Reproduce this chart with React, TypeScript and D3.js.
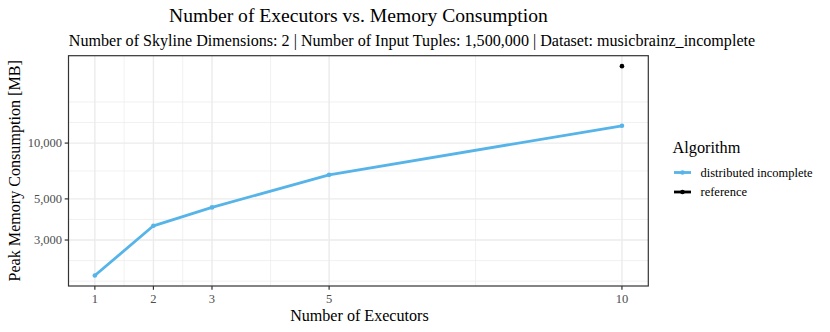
import React from "react";
import * as d3 from "d3";

const executors = [1, 2, 3, 5, 10];
const distributedIncomplete = [1930, 3580, 4500, 6740, 12400];
const referenceX = [10];
const referenceY = [26000];
const xBreaks = [1, 2, 3, 5, 10];
const yBreaks = [3000, 5000, 10000];
const legendLabels = ["distributed incomplete", "reference"];
const seriesColors = ["#56B4E9", "#000000"];

const W = 830;
const H = 332;
const panel = { left: 68.5, right: 648.3, top: 55.7, bottom: 286 };
const FONT = "'Liberation Serif', 'Times New Roman', serif";

export default function App() {
  const xMin = d3.min(executors)!;
  const xMax = d3.max(executors)!;
  const xPad = (xMax - xMin) * 0.05;
  const x = d3
    .scaleLinear()
    .domain([xMin - xPad, xMax + xPad])
    .range([panel.left, panel.right]);

  const allY = [...distributedIncomplete, ...referenceY].map(Math.log10);
  const lyMin = d3.min(allY)!;
  const lyMax = d3.max(allY)!;
  const lyPad = (lyMax - lyMin) * 0.05;
  const y = d3
    .scaleLog()
    .domain([Math.pow(10, lyMin - lyPad), Math.pow(10, lyMax + lyPad)])
    .range([panel.bottom, panel.top]);

  // minor breaks (ggplot regular_minor_breaks in transformed space)
  const xb = [...xBreaks];
  const xbd = xb[1] - xb[0];
  const xExt = [xb[0] - xbd, ...xb, xb[xb.length - 1] + xbd];
  const xMinor: number[] = [];
  for (let i = 0; i < xExt.length - 1; i++) xMinor.push((xExt[i] + xExt[i + 1]) / 2);
  const xd = x.domain();
  const xMinorIn = xMinor.filter((v) => v >= xd[0] && v <= xd[1]);

  const lb = yBreaks.map(Math.log10);
  const lbd = lb[1] - lb[0];
  const yExt = [lb[0] - lbd, ...lb, lb[lb.length - 1] + lbd];
  const yMinor: number[] = [];
  for (let i = 0; i < yExt.length - 1; i++) yMinor.push((yExt[i] + yExt[i + 1]) / 2);
  yMinor.push(yExt[yExt.length - 1]);
  yMinor.push(yExt[0]);
  const ld = [lyMin - lyPad, lyMax + lyPad];
  const yMinorIn = yMinor.filter((v) => v >= ld[0] && v <= ld[1]).map((v) => Math.pow(10, v));

  const line = d3
    .line<number>()
    .x((_, i) => x(executors[i]))
    .y((d) => y(d));

  const fmt = d3.format(",");
  const cx = (panel.left + panel.right) / 2;
  const cy = (panel.top + panel.bottom) / 2;

  return (
    <svg width={W} height={H} style={{ position: "absolute", left: 0, top: 0, background: "#fff" }} fontFamily={FONT}>
      <rect x={0} y={0} width={W} height={H} fill="#fff" />
      <text x={cx} y={22} textAnchor="middle" fontSize={19.6} fill="#000">
        Number of Executors vs. Memory Consumption
      </text>
      <text x={412} y={45.5} textAnchor="middle" fontSize={16.1} fill="#000">
        Number of Skyline Dimensions: 2 | Number of Input Tuples: 1,500,000 | Dataset: musicbrainz_incomplete
      </text>
      <g>
        {yMinorIn.map((v, i) => (
          <line key={"ym" + i} x1={panel.left} x2={panel.right} y1={y(v)} y2={y(v)} stroke="#ebebeb" strokeWidth={0.7} />
        ))}
        {xMinorIn.map((v, i) => (
          <line key={"xm" + i} x1={x(v)} x2={x(v)} y1={panel.top} y2={panel.bottom} stroke="#ebebeb" strokeWidth={0.7} />
        ))}
        {yBreaks.map((v, i) => (
          <line key={"yM" + i} x1={panel.left} x2={panel.right} y1={y(v)} y2={y(v)} stroke="#ebebeb" strokeWidth={1.4} />
        ))}
        {xBreaks.map((v, i) => (
          <line key={"xM" + i} x1={x(v)} x2={x(v)} y1={panel.top} y2={panel.bottom} stroke="#ebebeb" strokeWidth={1.4} />
        ))}
      </g>
      <path d={line(distributedIncomplete) || ""} fill="none" stroke={seriesColors[0]} strokeWidth={2.8} strokeLinejoin="round" />
      {distributedIncomplete.map((v, i) => (
        <circle key={"p" + i} cx={x(executors[i])} cy={y(v)} r={2.3} fill={seriesColors[0]} />
      ))}
      {referenceY.map((v, i) => (
        <circle key={"r" + i} cx={x(referenceX[i])} cy={y(v)} r={2.3} fill={seriesColors[1]} />
      ))}
      <rect
        x={panel.left}
        y={panel.top}
        width={panel.right - panel.left}
        height={panel.bottom - panel.top}
        fill="none"
        stroke="#333333"
        strokeWidth={1.2}
      />
      {xBreaks.map((v, i) => (
        <g key={"xt" + i}>
          <line x1={x(v)} x2={x(v)} y1={panel.bottom} y2={panel.bottom + 3.8} stroke="#333333" strokeWidth={1.2} />
          <text x={x(v)} y={303} textAnchor="middle" fontSize={12.5} fill="#4d4d4d">
            {fmt(v)}
          </text>
        </g>
      ))}
      {yBreaks.map((v, i) => (
        <g key={"yt" + i}>
          <line x1={panel.left - 3.8} x2={panel.left} y1={y(v)} y2={y(v)} stroke="#333333" strokeWidth={1.2} />
          <text x={panel.left - 6.5} y={y(v) + 4.2} textAnchor="end" fontSize={12.5} fill="#4d4d4d">
            {fmt(v)}
          </text>
        </g>
      ))}
      <text x={cx + 1} y={320.5} textAnchor="middle" fontSize={16.1} fill="#000">
        Number of Executors
      </text>
      <text transform={`translate(19.5,${cy}) rotate(-90)`} textAnchor="middle" fontSize={16.1} fill="#000">
        Peak Memory Consumption [MB]
      </text>
      <text x={672.5} y={153} fontSize={16.3} fill="#000">
        Algorithm
      </text>
      {legendLabels.map((lab, i) => (
        <g key={"lg" + i} transform={`translate(0,${172.5 + i * 19.5})`}>
          <line x1={674} x2={691} y1={0} y2={0} stroke={seriesColors[i]} strokeWidth={2.8} />
          <circle cx={682.5} cy={0} r={2.3} fill={seriesColors[i]} />
          <text x={700.5} y={4.2} fontSize={12.5} fill="#000">
            {lab}
          </text>
        </g>
      ))}
    </svg>
  );
}
